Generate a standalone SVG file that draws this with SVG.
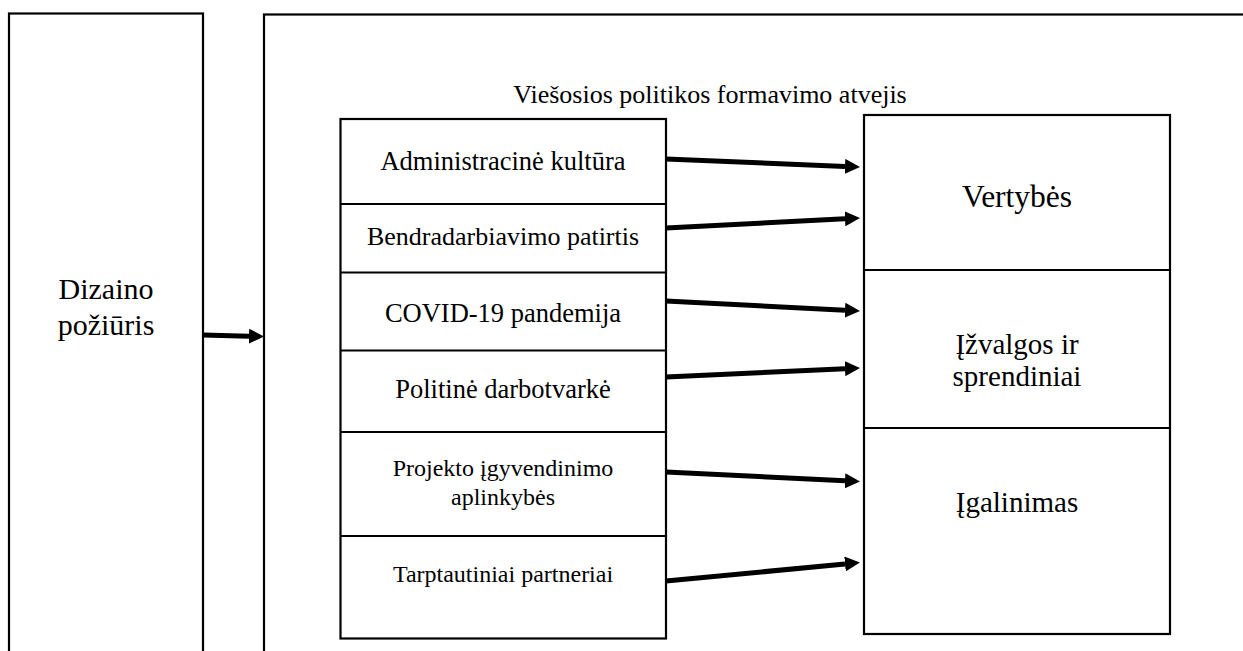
<svg xmlns="http://www.w3.org/2000/svg" width="1243" height="651" viewBox="0 0 1243 651">
<style>
.box{fill:#fff;stroke:#000;stroke-width:2.2}
.div{stroke:#000;stroke-width:2.2}
text{font-family:'Liberation Serif','DejaVu Serif',serif;fill:#000;text-anchor:middle}
.conn{stroke:#000;stroke-width:5;fill:none}
</style>
<defs>
<marker id="ah" markerUnits="userSpaceOnUse" markerWidth="15" markerHeight="15" refX="0" refY="7.5" orient="auto">
<path d="M0,0 L15,7.5 L0,15 z" fill="#000"/>
</marker>
</defs>
<rect width="1243" height="651" fill="#fff"/>
<g id="dizaino">
<rect class="box" x="9" y="13.5" width="194" height="700"/>
<text x="106" y="299" font-size="30">Dizaino</text>
<text x="106" y="335" font-size="30">požiūris</text>
</g>
<g id="atvejis">
<rect class="box" x="264" y="14.5" width="1100" height="700"/>
<text x="710" y="103" font-size="26">Viešosios politikos formavimo atvejis</text>
</g>
<g id="veiksniai">
<rect class="box" x="340.5" y="119" width="325.5" height="519.5"/>
<line class="div" x1="340.5" y1="204" x2="666" y2="204"/>
<line class="div" x1="340.5" y1="272.5" x2="666" y2="272.5"/>
<line class="div" x1="340.5" y1="350.5" x2="666" y2="350.5"/>
<line class="div" x1="340.5" y1="432" x2="666" y2="432"/>
<line class="div" x1="340.5" y1="536" x2="666" y2="536"/>
</g>
<g id="administracine"><text x="503" y="170" font-size="26.5">Administracinė kultūra</text></g>
<g id="bendradarbiavimo"><text x="503" y="245" font-size="26">Bendradarbiavimo patirtis</text></g>
<g id="covid"><text x="503" y="322" font-size="26.5">COVID-19 pandemija</text></g>
<g id="politine"><text x="503" y="398" font-size="26.5">Politinė darbotvarkė</text></g>
<g id="projekto"><text x="503" y="476" font-size="24">Projekto įgyvendinimo</text><text x="503" y="505" font-size="24">aplinkybės</text></g>
<g id="tarptautiniai"><text x="503" y="582" font-size="24">Tarptautiniai partneriai</text></g>
<g id="rezultatai">
<rect class="box" x="864" y="115" width="306" height="519"/>
<line class="div" x1="864" y1="270" x2="1170" y2="270"/>
<line class="div" x1="864" y1="428" x2="1170" y2="428"/>
</g>
<g id="vertybes"><text x="1017" y="207" font-size="31.5">Vertybės</text></g>
<g id="izvalgos"><text x="1017" y="354" font-size="29">Įžvalgos ir</text><text x="1017" y="386" font-size="29">sprendiniai</text></g>
<g id="igalinimas"><text x="1017" y="512" font-size="29">Įgalinimas</text></g>
<g id="connectors">
<line class="conn" x1="203" y1="335" x2="249" y2="336.2" marker-end="url(#ah)"/>
<line class="conn" x1="666" y1="159" x2="845" y2="166.4" marker-end="url(#ah)"/>
<line class="conn" x1="666" y1="228" x2="845" y2="218.8" marker-end="url(#ah)"/>
<line class="conn" x1="666" y1="301" x2="845" y2="310.2" marker-end="url(#ah)"/>
<line class="conn" x1="666" y1="377" x2="845" y2="368.7" marker-end="url(#ah)"/>
<line class="conn" x1="666" y1="472" x2="845" y2="480.8" marker-end="url(#ah)"/>
<line class="conn" x1="666" y1="581" x2="845" y2="564" marker-end="url(#ah)"/>
</g>
</svg>
